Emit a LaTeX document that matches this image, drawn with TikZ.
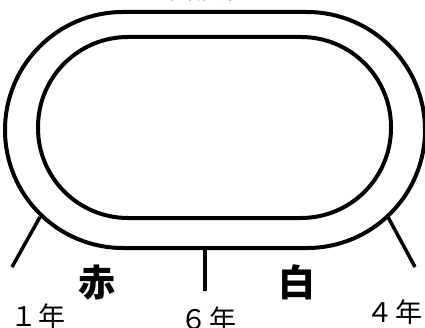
\documentclass[tikz,border=0pt]{standalone}
\usepackage{fontspec}
\newfontfamily\jp{Noto Sans CJK JP}
\begin{document}
\begin{tikzpicture}[x=1pt,y=1pt,
  track/.style={line width=4pt,draw=black},
  tick/.style={line width=3.5pt,draw=black},
  team/.style={font=\jp\bfseries\fontsize{37}{37}\selectfont,inner sep=0pt},
  grade/.style={font=\jp\fontsize{27}{27}\selectfont,inner sep=0pt}]
\useasboundingbox (0,0) rectangle (425,327);
\draw[track,rounded corners=118pt] (5,79) rectangle (425,315);
\draw[track,rounded corners=90pt] (38,109) rectangle (391,290);
\node[font=\jp\fontsize{28}{28}\selectfont,anchor=base,inner sep=0pt] (top) at (200,328) {本部席};
\coordinate (l1) at (40,110);
\coordinate (l2) at (12,60);
\coordinate (m1) at (205,79);
\coordinate (m2) at (205,36);
\coordinate (r1) at (388,110);
\coordinate (r2) at (415,60);
\draw[tick] (l1) -- (l2);
\draw[tick] (m1) -- (m2);
\draw[tick] (r1) -- (r2);
\node[team] (aka) at (97,44) {赤};
\node[team] (shiro) at (297,45) {白};
\node[grade] (g1) at (38,11) {１\hspace{2pt}年};
\node[grade] (g6) at (208,8) {６\hspace{2pt}年};
\node[grade] (g4) at (394,15) {４\hspace{2pt}年};
\end{tikzpicture}
\end{document}
